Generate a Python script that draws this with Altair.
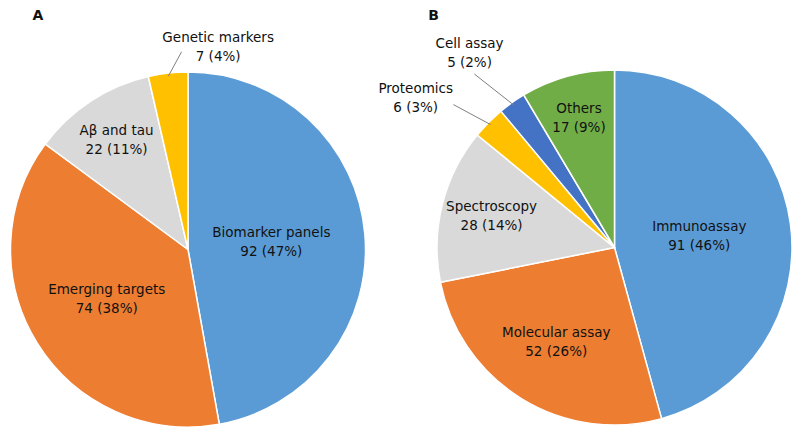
import altair as alt
import pandas as pd

# ---------------- data ----------------
a_cats = ["Biomarker panels", "Emerging targets", "Aβ and tau", "Genetic markers"]
a_vals = [92, 74, 22, 7]
a_pcts = [47, 38, 11, 4]
a_colors = ["#5B9BD5", "#ED7D31", "#D9D9D9", "#FFC000"]

b_cats = ["Immunoassay", "Molecular assay", "Spectroscopy", "Proteomics", "Cell assay", "Others"]
b_vals = [91, 52, 28, 6, 5, 17]
b_pcts = [46, 26, 14, 3, 2, 9]
b_colors = ["#5B9BD5", "#ED7D31", "#D9D9D9", "#FFC000", "#4472C4", "#70AD47"]

panel_letters = ["A", "B"]

# ---------------- layout ----------------
W, H = 784, 420
R = 177.5
CENTER_A = (180, 241.5)
CENTER_B = (606.5, 239.5)
FONT = "DejaVu Sans"
FS = 13.5
LH = 19
TXT = "#111111"

# outside labels: (label radius on mid-angle ray, label x nudge,
#                  leader end radius, leader end x nudge, leader end y nudge)
OUTER = {
    "Genetic markers": (203, 53, 199, 16, 0),
    "Cell assay": (238, -7.5, 215, -16, 2),
    "Proteomics": (211, -49, 210, -12, 5),
}


def text_mark():
    return dict(font=FONT, fontSize=FS, lineBreak="\n", lineHeight=LH,
                color=TXT, align="center", baseline="middle", dy=-LH / 2)


def pie(cats, vals, pcts, colors, center):
    cx, cy = center
    df = pd.DataFrame({"cat": cats, "value": vals, "pct": pcts,
                       "idx": list(range(len(cats)))})
    arc = alt.Chart(df).mark_arc(radius=R, stroke="white", strokeWidth=1.5).encode(
        theta=alt.Theta("value:Q", stack=True),
        order=alt.Order("idx:Q"),
        color=alt.Color("cat:N", scale=alt.Scale(domain=cats, range=colors), legend=None),
        x=alt.value(cx),
        y=alt.value(cy),
    )
    base = alt.Chart(df).transform_joinaggregate(
        total="sum(value)"
    ).transform_window(
        cum="sum(value)", sort=[alt.SortField("idx")], frame=[None, 0]
    ).transform_calculate(
        mid="2*PI*(datum.cum - datum.value/2)/datum.total",
        frac="datum.value/datum.total",
        label="datum.cat + '\\n' + datum.value + ' (' + datum.pct + '%)'",
    )
    outer_names = [c for c in cats if c in OUTER]
    inner = base.transform_filter(
        alt.FieldOneOfPredicate(field="cat", oneOf=[c for c in cats if c not in OUTER])
    ).transform_calculate(
        lr="145 - 130*datum.frac"
    ).transform_calculate(
        lx=f"{cx} + datum.lr*sin(datum.mid)",
        ly=f"{cy} - datum.lr*cos(datum.mid)",
    ).mark_text(**text_mark()).encode(
        x=alt.X("lx:Q", scale=None, axis=None),
        y=alt.Y("ly:Q", scale=None, axis=None),
        text="label:N",
    )
    layers = [arc, inner]
    for name in outer_names:
        rl, dx, re, edx, edy = OUTER[name]
        sub = base.transform_filter(alt.datum.cat == name).transform_calculate(
            lx=f"{cx} + {rl}*sin(datum.mid) + ({dx})",
            ly=f"{cy} - {rl}*cos(datum.mid)",
            sx=f"{cx} + {R - 3}*sin(datum.mid)",
            sy=f"{cy} - {R - 3}*cos(datum.mid)",
            ex=f"{cx} + {re}*sin(datum.mid) + ({edx})",
            ey=f"{cy} - {re}*cos(datum.mid) + ({edy})",
        )
        rule = sub.mark_rule(color="#7F7F7F", strokeWidth=1).encode(
            x=alt.X("sx:Q", scale=None, axis=None),
            y=alt.Y("sy:Q", scale=None, axis=None),
            x2="ex:Q",
            y2="ey:Q",
        )
        txt = sub.mark_text(**text_mark()).encode(
            x=alt.X("lx:Q", scale=None, axis=None),
            y=alt.Y("ly:Q", scale=None, axis=None),
            text="label:N",
        )
        layers += [rule, txt]
    return layers


layers = pie(a_cats, a_vals, a_pcts, a_colors, CENTER_A) + \
    pie(b_cats, b_vals, b_pcts, b_colors, CENTER_B)

letters_df = pd.DataFrame({"letter": panel_letters})
letter_a = alt.Chart(letters_df).transform_filter(alt.datum.letter == "A").mark_text(
    font="DejaVu Sans", fontSize=14, fontWeight="bold", color=TXT,
    align="center", baseline="middle").encode(x=alt.value(30), y=alt.value(7.5), text="letter:N")
letter_b = alt.Chart(letters_df).transform_filter(alt.datum.letter == "B").mark_text(
    font="DejaVu Sans", fontSize=14, fontWeight="bold", color=TXT,
    align="center", baseline="middle").encode(x=alt.value(425.5), y=alt.value(7.5), text="letter:N")

chart = alt.layer(*layers, letter_a, letter_b).resolve_scale(
    theta="independent", color="independent"
).properties(
    width=W, height=H, padding=0,
    autosize=alt.AutoSizeParams(type="none"),
).configure_view(stroke=None)

chart.save("out.html", embed_options={"renderer": "svg", "actions": False})
